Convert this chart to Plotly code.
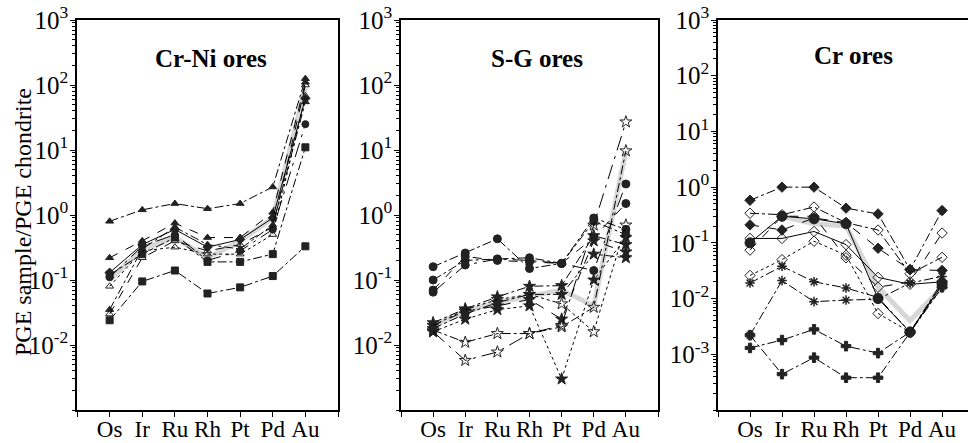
import plotly.graph_objects as go

ELEMENTS = ["Os", "Ir", "Ru", "Rh", "Pt", "Pd", "Au"]
X = list(range(7))

# ---- Panel 1: Cr-Ni ores ----
crni_1 = [0.8, 1.2, 1.5, 1.25, 1.5, 2.7, 125]
crni_2 = [0.024, 0.095, 0.14, 0.062, 0.077, 0.115, 0.33]
crni_3 = [0.12, 0.25, 0.45, 0.19, 0.19, 0.25, 11]
crni_4 = [0.22, 0.4, 0.75, 0.45, 0.45, 1.1, 110]
crni_5 = [0.13, 0.35, 0.6, 0.32, 0.42, 0.9, 62]
crni_6 = [0.035, 0.3, 0.65, 0.35, 0.3, 0.7, 55]
crni_7 = [0.08, 0.28, 0.32, 0.25, 0.25, 0.5, 68]
crni_8 = [0.11, 0.33, 0.5, 0.2, 0.28, 0.6, 25]
crni_9 = [0.03, 0.22, 0.4, 0.28, 0.35, 0.65, 100]
crni_grey = [0.1, 0.3, 0.45, 0.22, 0.4, 0.9, 90]

# ---- Panel 2: S-G ores ----
sg_1 = [0.16, 0.26, 0.43, 0.15, 0.18, 0.9, 0.6]
sg_2 = [0.1, 0.2, 0.21, 0.22, 0.18, 0.8, 0.5]
sg_3 = [0.065, 0.17, 0.21, 0.2, 0.18, 0.14, 3.0]
sg_4 = [0.07, 0.23, 0.2, 0.19, 0.18, 0.45, 1.5]
sg_5 = [0.022, 0.036, 0.055, 0.08, 0.082, 0.48, 0.35]
sg_6 = [0.018, 0.03, 0.045, 0.06, 0.06, 0.25, 0.22]
sg_7 = [0.016, 0.025, 0.035, 0.04, 0.003, 0.1, 0.45]
sg_8 = [0.02, 0.033, 0.04, 0.05, 0.025, 0.4, 0.27]
sg_9 = [0.017, 0.011, 0.015, 0.015, 0.019, 0.038, 9.7]
sg_10 = [0.016, 0.0058, 0.0078, 0.015, 0.02, 0.7, 27]
sg_11 = [0.02, 0.035, 0.05, 0.06, 0.043, 0.016, 0.7]
sg_grey = [0.02, 0.033, 0.045, 0.055, 0.07, 0.04, 9.5]

# ---- Panel 3: Cr ores ----
cr_1 = [0.58, 1.0, 1.0, 0.42, 0.33, 0.033, 0.38]
cr_2 = [0.34, 0.32, 0.44, 0.23, 0.17, 0.028, 0.055]
cr_3 = [0.21, 0.17, 0.28, 0.23, 0.08, 0.033, 0.032]
cr_4 = [0.12, 0.12, 0.16, 0.093, 0.024, 0.018, 0.02]
cr_5 = [0.074, 0.3, 0.3, 0.054, 0.016, 0.02, 0.15]
cr_6 = [0.1, 0.3, 0.27, 0.22, 0.01, 0.0025, 0.018]
cr_7 = [0.026, 0.05, 0.107, 0.06, 0.0054, 0.0025, 0.016]
cr_8 = [0.019, 0.038, 0.02, 0.0155, 0.0105, 0.0025, 0.018]
cr_9 = [0.0022, 0.021, 0.0088, 0.0094, 0.0097, 0.019, 0.025]
cr_10 = [0.0013, 0.0018, 0.0028, 0.0014, 0.00105, 0.0025, 0.02]
cr_11 = [0.0022, 0.00044, 0.00087, 0.00038, 0.00038, 0.0025, 0.016]
cr_grey = [None, 0.3, 0.22, 0.2, 0.016, 0.004, 0.016]

TITLES = ["Cr-Ni ores", "S-G ores", "Cr ores"]
YTICK_EXP_P12 = [3, 2, 1, 0, -1, -2]
YTICK_EXP_P3 = [3, 2, 1, 0, -1, -2, -3]

FONT = "Liberation Serif"

panels = [
    dict(grey=crni_grey, series=[
        (crni_1, "triangle-up", "dashdot", 7),
        (crni_2, "square", "dashdot", 7),
        (crni_3, "square", "dashdot", 7),
        (crni_4, "triangle-up", "dash", 7),
        (crni_5, "diamond", "solid", 7),
        (crni_6, "triangle-up", "dashdot", 7),
        (crni_7, "triangle-up-open", "dot", 7),
        (crni_8, "circle", "longdashdot", 7),
        (crni_9, "triangle-up-open", "dash", 7),
    ]),
    dict(grey=sg_grey, series=[
        (sg_1, "circle", "dashdot", 8),
        (sg_2, "circle", "dashdot", 8),
        (sg_3, "circle", "longdashdot", 8),
        (sg_4, "circle", "dash", 8),
        (sg_5, "star", "dashdot", 9),
        (sg_6, "star", "dashdot", 9),
        (sg_7, "star", "dot", 9),
        (sg_8, "star", "dash", 9),
        (sg_9, "star-open", "dashdot", 9),
        (sg_10, "star-open", "longdashdot", 9),
        (sg_11, "star-open", "dot", 9),
    ]),
    dict(grey=cr_grey, series=[
        (cr_1, "diamond", "dashdot", 8),
        (cr_2, "diamond-open", "dashdot", 8),
        (cr_3, "diamond", "dash", 8),
        (cr_4, "diamond-open", "solid", 8),
        (cr_5, "diamond-open", "dash", 8),
        (cr_6, "circle", "solid", 10),
        (cr_7, "diamond-open", "dot", 8),
        (cr_8, "asterisk", "dashdot", 8),
        (cr_9, "asterisk", "dashdot", 8),
        (cr_10, "cross", "dashdot", 8),
        (cr_11, "cross", "dashdot", 8),
    ]),
]

W, H = 968, 443
x_domains = [(77 / W, 338 / W), (401 / W, 658 / W), (718 / W, 1.0)]
x_ranges = [[-1, 7], [-1, 7], [-1, 6.81]]
y_ranges = [[-3, 3], [-3, 3], [-4, 3]]
y_dom = [1 - 410 / H, 1 - 20 / H]

fig = go.Figure()
for i, p in enumerate(panels):
    xa = "x" if i == 0 else f"x{i+1}"
    ya = "y" if i == 0 else f"y{i+1}"
    fig.add_trace(go.Scatter(x=X, y=p["grey"], mode="lines", xaxis=xa, yaxis=ya,
                             line=dict(color="rgba(205,205,205,0.8)", width=5),
                             connectgaps=False, showlegend=False, hoverinfo="skip"))
    for vals, sym, dash, size in p["series"]:
        lw = 1.5 if sym == "asterisk" else 1
        fig.add_trace(go.Scatter(
            x=X, y=vals, mode="lines+markers", xaxis=xa, yaxis=ya,
            line=dict(color="black", width=1, dash=dash),
            marker=dict(symbol=sym, size=size, color="#222",
                        line=dict(color="#222", width=lw)),
            showlegend=False))

layout = dict(width=W, height=H, margin=dict(l=0, r=0, t=0, b=0, autoexpand=False),
              paper_bgcolor="white", plot_bgcolor="white",
              font=dict(family=FONT, color="black"))

for i in range(3):
    sfx = "" if i == 0 else str(i + 1)
    exps = YTICK_EXP_P3 if i == 2 else YTICK_EXP_P12
    layout["xaxis" + sfx] = dict(
        domain=list(x_domains[i]), range=x_ranges[i], anchor="y" + sfx,
        tickmode="array", tickvals=X, ticktext=ELEMENTS, tickangle=0,
        ticks="outside", ticklen=5, tickwidth=1.2, tickcolor="black",
        minor=dict(tick0=0, dtick=1, ticks="outside", ticklen=5, tickwidth=1.2,
                   tickcolor="black", showgrid=False),
        showline=True, linecolor="black", linewidth=1.5, mirror=True,
        showgrid=False, zeroline=False, automargin=False,
        ticklabelstandoff=-7,
        tickfont=dict(family=FONT, size=23, color="black"))
    layout["yaxis" + sfx] = dict(
        domain=y_dom, type="log", range=y_ranges[i], anchor="x" + sfx,
        tickmode="array", tickvals=[10.0 ** e for e in exps],
        ticktext=[f"10<sup>{e}</sup>" for e in exps],
        ticks="outside", ticklen=5, tickwidth=1.2, tickcolor="black",
        minor=dict(ticks="outside", ticklen=3, tickcolor="black", dtick="D1", showgrid=False),
        showline=True, linecolor="black", linewidth=1.5, mirror=(i < 2),
        showgrid=False, zeroline=False, automargin=False,
        ticklabelstandoff=-3,
        tickfont=dict(family=FONT, size=25, color="black"))

fig.update_layout(**layout)

title_pos = [(211, 58), (537, 58), (853, 55)]
for t, (px, py) in zip(TITLES, title_pos):
    fig.add_annotation(text=f"<b>{t}</b>", x=px / W, y=1 - py / H, xref="paper", yref="paper",
                       showarrow=False, xanchor="center", yanchor="middle",
                       font=dict(family=FONT, size=25, color="black"))

fig.add_annotation(text="PGE sample/PGE chondrite", x=23 / W, y=1 - 222 / H,
                   xref="paper", yref="paper", showarrow=False, textangle=-90,
                   xanchor="center", yanchor="middle",
                   font=dict(family=FONT, size=24, color="black"))

fig.write_html("out.html", config={"displayModeBar": False},
               post_script="document.body.style.margin='0';document.body.style.padding='0';")
